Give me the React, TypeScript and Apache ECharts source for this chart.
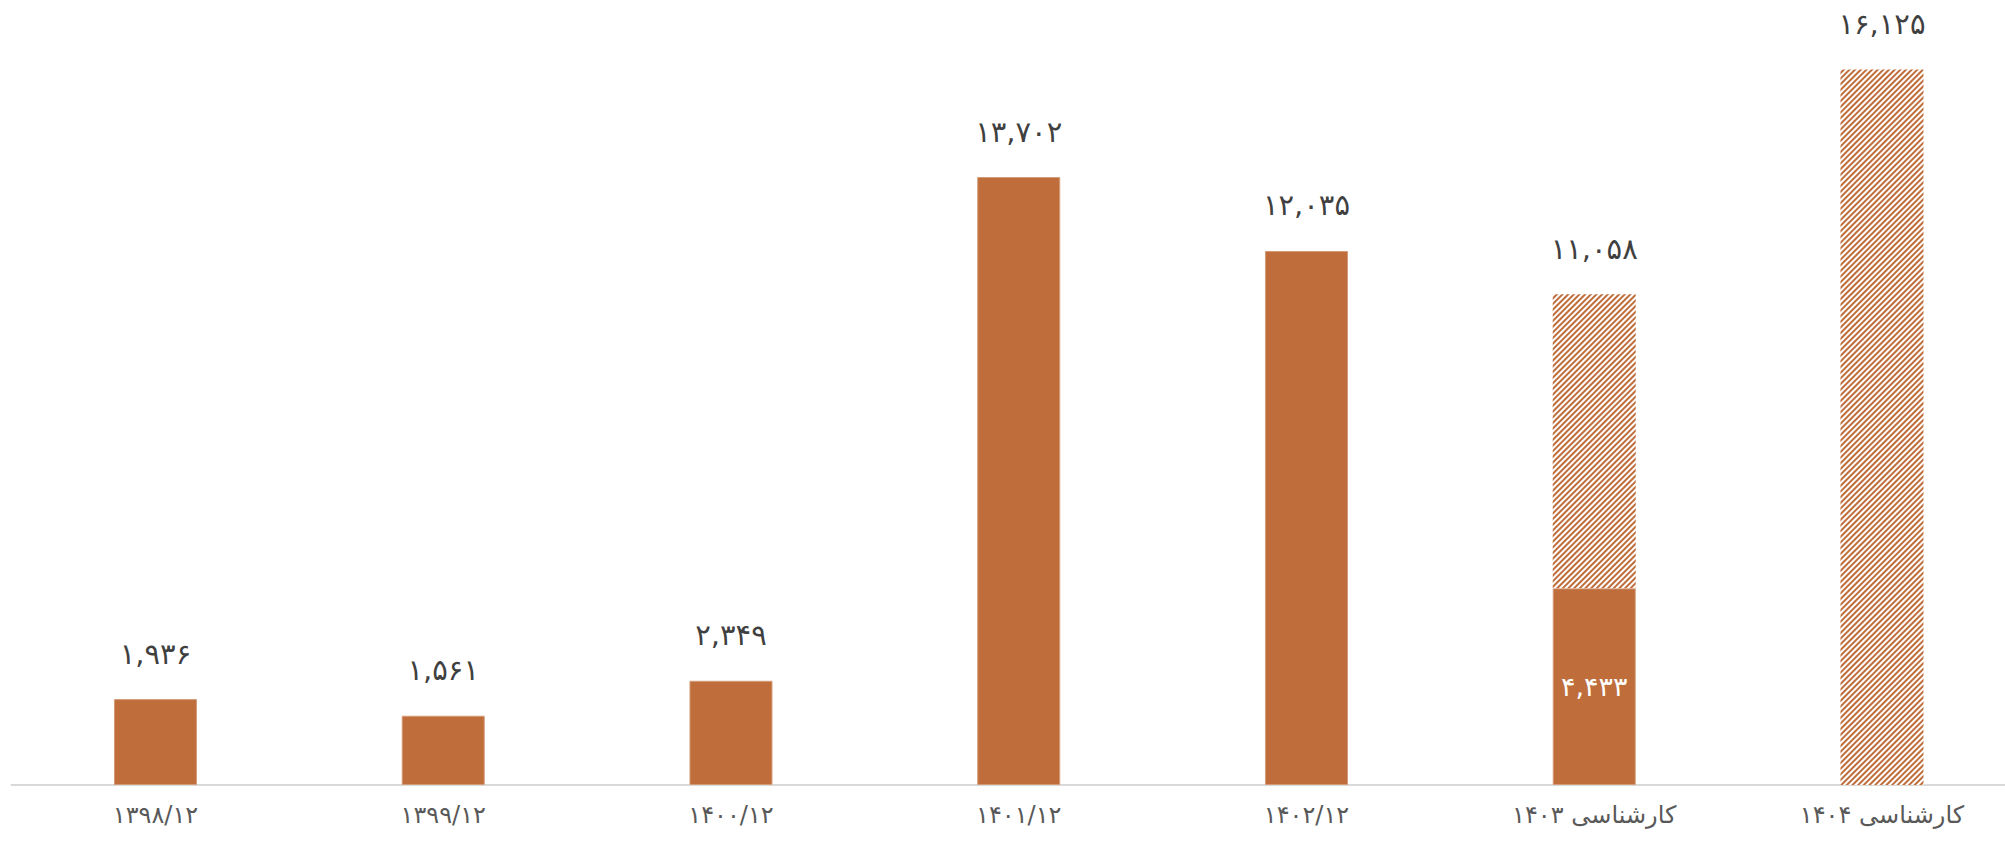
import React, { useEffect, useRef } from "react";
import * as echarts from "echarts";

const categories = [
  "۱۳۹۸/۱۲",
  "۱۳۹۹/۱۲",
  "۱۴۰۰/۱۲",
  "۱۴۰۱/۱۲",
  "۱۴۰۲/۱۲",
  "کارشناسی ۱۴۰۳",
  "کارشناسی ۱۴۰۴",
];
const actualValues: (number | null)[] = [1936, 1561, 2349, 13702, 12035, 4433, null];
const forecastTotals: (number | null)[] = [null, null, null, null, null, 11058, 16125];

const BAR = "#BE6D3B";
const FA = "۰۱۲۳۴۵۶۷۸۹";
const toFa = (n: number) =>
  n.toLocaleString("en-US").replace(/\d/g, (d) => FA[Number(d)]);

export default function App() {
  const ref = useRef<HTMLDivElement>(null);
  useEffect(() => {
    if (!ref.current) return;
    const chart = echarts.init(ref.current, undefined, { renderer: "svg" });
    const font = "DejaVu Sans, Noto Sans, sans-serif";
    const actualData = actualValues.map((v, i) => {
      if (v == null) return "-";
      const stackedOnly = forecastTotals[i] != null;
      return {
        value: v,
        label: stackedOnly
          ? { show: true, position: "inside", color: "#ffffff", fontSize: 27, fontFamily: font }
          : { show: true, position: "top", distance: 31, color: "#404040", fontSize: 29, fontFamily: font },
      };
    });
    const forecastData = forecastTotals.map((t, i) =>
      t == null ? "-" : t - (actualValues[i] ?? 0)
    );
    chart.setOption({
      animation: false,
      grid: { left: 11.6, right: 4.15, top: 69.5, bottom: 57, outerBoundsMode: "none" },
      xAxis: {
        type: "category",
        data: categories,
        axisLine: { show: true, lineStyle: { color: "#D9D9D9", width: 2 } },
        axisTick: { show: false },
        axisLabel: { color: "#595959", fontSize: 24, margin: 18, fontFamily: font, interval: 0 },
      },
      yAxis: {
        type: "value",
        min: 0,
        max: 16125,
        show: false,
        splitLine: { show: false },
      },
      series: [
        {
          name: "actual",
          type: "bar",
          stack: "total",
          barWidth: 83,
          data: actualData,
          itemStyle: { color: BAR, borderColor: "#D49B78", borderWidth: 1 },
          label: {
            fontFamily: font,
            formatter: (p: any) => toFa(p.value as number),
          },
        },
        {
          name: "forecast",
          type: "bar",
          stack: "total",
          barWidth: 83,
          data: forecastData,
          itemStyle: {
            color: "#ffffff",
            decal: {
              symbol: "rect",
              symbolSize: 1,
              dashArrayX: [1, 0],
              dashArrayY: [2, 2],
              rotation: -Math.PI / 4,
              color: BAR,
            },
          },
          label: {
            show: true,
            position: "top",
            distance: 31,
            color: "#404040",
            fontSize: 29,
            fontFamily: font,
            formatter: (p: any) => {
              const t = forecastTotals[p.dataIndex];
              return t == null ? "" : toFa(t);
            },
          },
        },
      ],
    });
    return () => chart.dispose();
  }, []);
  return (
    <div
      style={{
        position: "fixed",
        left: 0,
        top: 0,
        width: 2005,
        height: 842,
        overflow: "hidden",
        background: "#ffffff",
      }}
    >
      <div ref={ref} style={{ width: 2030, height: 842 }} />
    </div>
  );
}
